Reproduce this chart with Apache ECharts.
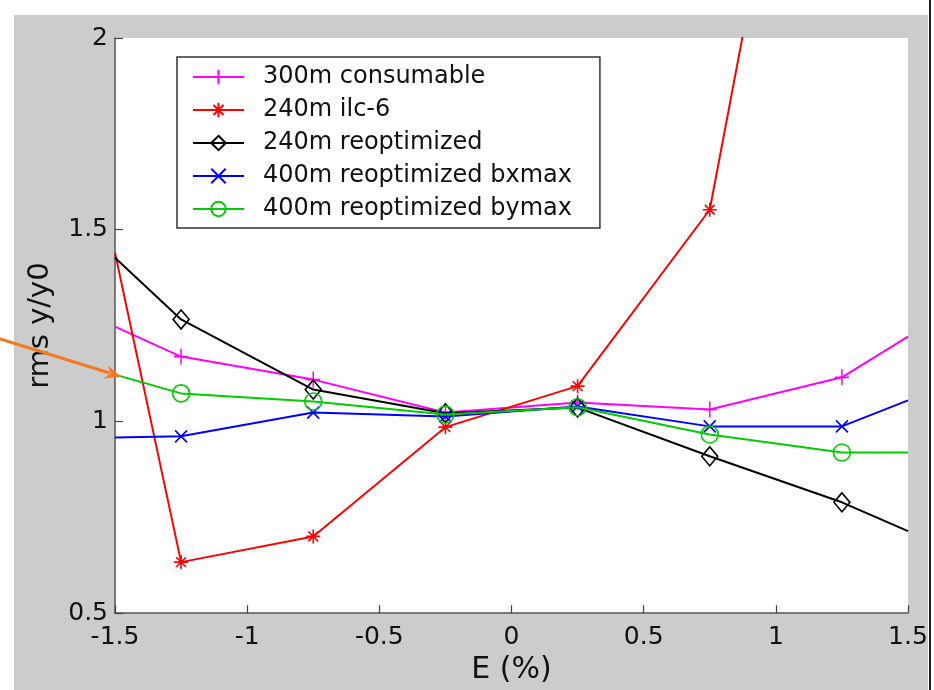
<!DOCTYPE html>
<html>
<head>
<meta charset="utf-8">
<script src="https://cdn.jsdelivr.net/npm/echarts@6/dist/echarts.min.js"></script>
<style>
html,body{margin:0;padding:0;background:#fff;}
#wrap{position:relative;width:934px;height:690px;overflow:hidden;}
#bg{position:absolute;left:14px;top:15px;width:914px;height:675px;background:#cccccc;}
#edge{position:absolute;left:929px;top:0;width:2px;height:690px;background:#222;}
#c{position:absolute;left:0;top:0;width:934px;height:690px;}
</style>
</head>
<body>
<div id="wrap"><div id="bg"></div><div id="edge"></div><div id="c"></div></div>
<script>
// ---- data ----
const seriesNames = ['300m consumable', '240m ilc-6', '240m reoptimized', '400m reoptimized bxmax', '400m reoptimized bymax'];
const xE = [-1.5, -1.25, -0.75, -0.25, 0.25, 0.75, 1.25, 1.5];
const xE_ilc = [-1.5, -1.25, -0.75, -0.25, 0.25, 0.75, 1.25];
const consumable300 = [1.247, 1.169, 1.109, 1.023, 1.049, 1.031, 1.115, 1.221];
const ilc6_240 = [1.440, 0.633, 0.700, 0.985, 1.092, 1.552, 3.37];
const reopt240 = [1.427, 1.266, 1.083, 1.021, 1.036, 0.909, 0.789, 0.714];
const bxmax400 = [0.958, 0.961, 1.023, 1.013, 1.039, 0.987, 0.987, 1.055];
const bymax400 = [1.122, 1.073, 1.052, 1.018, 1.037, 0.966, 0.919, 0.919];
const xTickMin = -1.5, xTickMax = 1.5, xTickStep = 0.5;
const yTickMin = 0.5, yTickMax = 2, yTickStep = 0.5;

const colors = ['#ff00ff', '#ff0000', '#000000', '#0000ff', '#00cc00'];
const symPlus = 'path://M0,-1L0,1M-1,0L1,0';
const symStar = 'path://M0,-1L0,1M-1,0L1,0M-0.7,-0.7L0.7,0.7M-0.7,0.7L0.7,-0.7';
const symDiamond = 'path://M0,-1L0.8,0L0,1L-0.8,0Z';
const symX = 'path://M-1,-1L1,1M-1,1L1,-1';
const symbols = [symPlus, symStar, symDiamond, symX, 'circle'];
const symSizes = [[14, 16], [14, 14], [16, 19], [12, 12], [17, 17]];
const ys = [consumable300, ilc6_240, reopt240, bxmax400, bymax400];
const xsFor = [xE, xE_ilc, xE, xE, xE];

function build(i) {
  const xs = xsFor[i], v = ys[i];
  return v.map((y, k) => {
    const edge = (xs[k] <= xTickMin || xs[k] >= xTickMax);
    return edge ? { value: [xs[k], y], symbol: 'none' } : { value: [xs[k], y] };
  });
}

const font = 'DejaVu Sans';
const chart = echarts.init(document.getElementById('c'), null, { renderer: 'canvas' });
const option = {
  animation: false,
  backgroundColor: 'transparent',
  grid: { left: 115, right: 26, top: 38, bottom: 76, show: true, backgroundColor: '#ffffff', borderWidth: 0 },
  xAxis: {
    type: 'value', min: xTickMin, max: xTickMax, interval: xTickStep,
    name: 'E (%)', nameLocation: 'middle', nameGap: 40,
    nameTextStyle: { fontFamily: font, fontSize: 30, color: '#111' },
    axisLine: { show: true, onZero: false, lineStyle: { color: '#555', width: 1.5 } },
    axisTick: { show: true, inside: true, length: 8, lineStyle: { color: '#444', width: 1.2 } },
    axisLabel: { fontFamily: font, fontSize: 25, color: '#111', margin: 12 },
    splitLine: { show: false }
  },
  yAxis: {
    type: 'value', min: yTickMin, max: yTickMax, interval: yTickStep,
    name: 'rms y/y0', nameLocation: 'middle', nameGap: 60, nameRotate: 90,
    nameTextStyle: { fontFamily: font, fontSize: 29, color: '#111' },
    axisLine: { show: true, onZero: false, lineStyle: { color: '#555', width: 1.5 } },
    axisTick: { show: true, inside: true, length: 8, lineStyle: { color: '#444', width: 1.2 } },
    axisLabel: { fontFamily: font, fontSize: 25, color: '#111', margin: 7 },
    splitLine: { show: false }
  },
  legend: {
    orient: 'vertical', left: 177, top: 57,
    padding: [8, 28, 7, 15], itemGap: 9, itemWidth: 51, itemHeight: 18,
    backgroundColor: '#ffffff', borderColor: '#333', borderWidth: 1.5, borderRadius: 0,
    textStyle: { fontFamily: font, fontSize: 24, color: '#111', lineHeight: 24, padding: [0, 0, 0, 14] },
    data: seriesNames
  },
  series: seriesNames.map((n, i) => ({
    name: n, type: 'line', data: build(i), clip: true,
    symbol: symbols[i], symbolSize: symSizes[i], showAllSymbol: true,
    lineStyle: { color: colors[i], width: 2 },
    itemStyle: { color: (i === 2 || i === 4) ? 'rgba(0,0,0,0)' : colors[i], borderColor: colors[i], borderWidth: 1.6 },
    emphasis: { disabled: true },
    z: 2 + i
  }))
};
chart.setOption(option);

// annotation arrow pointing at the bymax curve at the left edge
const p = chart.convertToPixel({ seriesIndex: 4 }, [xE[0], bymax400[0]]);
const tip = [p[0] + 6, p[1] + 2];
const tail = [tip[0] - 122, tip[1] - 38];
const dx = tip[0] - tail[0], dy = tip[1] - tail[1], L = Math.hypot(dx, dy);
const ux = dx / L, uy = dy / L, hl = 16, hw = 7;
const base = [tip[0] - ux * hl, tip[1] - uy * hl];
chart.setOption({
  graphic: [
    { type: 'line', z: 100, shape: { x1: tail[0], y1: tail[1], x2: base[0] + ux * 4, y2: base[1] + uy * 4 }, style: { stroke: '#f47a20', lineWidth: 3 } },
    { type: 'polygon', z: 100, shape: { points: [tip, [base[0] - uy * hw, base[1] + ux * hw], [base[0] + ux * 5, base[1] + uy * 5], [base[0] + uy * hw, base[1] - ux * hw]] }, style: { fill: '#f47a20' } }
  ]
});
</script>
</body>
</html>
